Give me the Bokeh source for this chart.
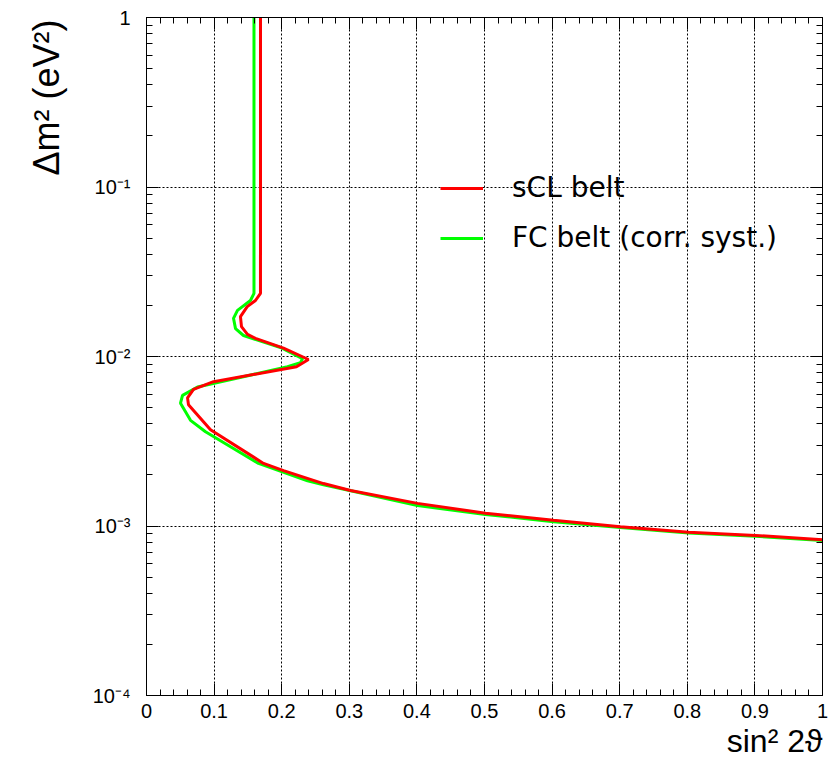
import math
from bokeh.plotting import figure
from bokeh.models import (FixedTicker, LinearAxis, LogAxis, Legend, LegendItem,
                          Title, Range1d, CustomJSTickFormatter)
from bokeh.embed import file_html
from bokeh.resources import INLINE

# ---- data ----
red_x = [0.1686, 0.1686, 0.1612, 0.1490, 0.1390, 0.1405, 0.1494, 0.1612, 0.2027,
         0.2396, 0.2219, 0.0991, 0.0695, 0.0607, 0.0621, 0.0947, 0.1731, 0.2027,
         0.2618, 0.3018, 0.4009, 0.5015, 0.6020, 0.7010, 0.8020, 0.9010, 1.0]
red_y = [1.0, 0.0236, 0.0214, 0.0197, 0.0172, 0.0150, 0.0135, 0.0128, 0.0112,
         0.0096, 0.0087, 0.0071, 0.0064, 0.0057, 0.0052, 0.0037, 0.00234, 0.00212,
         0.00178, 0.00162, 0.00136, 0.00119, 0.00108, 0.00099, 0.00092, 0.00088, 0.00083]

green_x = [0.1590, 0.1590, 0.1538, 0.1346, 0.1287, 0.1317, 0.1435, 0.1982, 0.2308,
           0.2278, 0.2086, 0.0754, 0.0533, 0.0503, 0.0651, 0.0873, 0.1657, 0.2382,
           0.2618, 0.4009, 0.5015, 0.6020, 0.7010, 0.8020, 0.9010, 1.0]
green_y = [1.0, 0.0236, 0.0214, 0.0187, 0.0168, 0.0146, 0.0133, 0.0113, 0.0097,
           0.0092, 0.0087, 0.0066, 0.0059, 0.0053, 0.0042, 0.0036, 0.00234, 0.00185,
           0.00175, 0.00132, 0.00117, 0.00106, 0.00098, 0.00091, 0.00087, 0.00082]

series_labels = ["sCL belt", "FC belt (corr. syst.)"]

x_ticks = [0.0, 0.1, 0.2, 0.3, 0.4, 0.5, 0.6, 0.7, 0.8, 0.9, 1.0]
x_tick_labels = ["0", "0.1", "0.2", "0.3", "0.4", "0.5", "0.6", "0.7", "0.8", "0.9", "1"]
y_ticks = [1e-4, 1e-3, 1e-2, 1e-1, 1.0]
y_tick_labels = ["10\u207b\u2074", "10\u207b\u00b3", "10\u207b\u00b2", "10\u207b\u00b9", "1"]

x_title = "sin\u00b2 2\u03d1"
y_title = "\u0394m\u00b2 (eV\u00b2)"

# ---- figure ----
FONT = "Liberation Sans"
p = figure(width=839, height=765, x_range=Range1d(0, 1), y_range=Range1d(1e-4, 1),
           y_axis_type="log", output_backend="svg", toolbar_location=None,
           min_border_left=146, min_border_right=17, min_border_top=17, min_border_bottom=70,
           background_fill_color="white", border_fill_color="white",
           outline_line_color="black", outline_line_width=1)

x_minor = [i * 0.02 for i in range(51)]
y_minor = [m * 10.0 ** e for e in range(-4, 0) for m in range(2, 10)]

fmt_js = """
const i = tvals.findIndex(t => Math.abs(t - tick) <= 1e-9 * Math.max(1, Math.abs(t)));
return i >= 0 ? tlabels[i] : "";
"""
xfmt = CustomJSTickFormatter(args=dict(tvals=x_ticks, tlabels=x_tick_labels), code=fmt_js)
yfmt = CustomJSTickFormatter(args=dict(tvals=y_ticks, tlabels=y_tick_labels), code=fmt_js)

def style_axis(ax, standoff=8):
    ax.axis_line_color = "black"
    ax.axis_line_width = 1
    ax.major_tick_in = 12
    ax.major_tick_out = 0
    ax.minor_tick_in = 6
    ax.minor_tick_out = 0
    ax.major_tick_line_color = "black"
    ax.minor_tick_line_color = "black"
    ax.major_label_text_font = FONT
    ax.major_label_text_font_size = "20px"
    ax.major_label_text_color = "black"
    ax.major_label_standoff = standoff

xax = p.xaxis[0]
xax.ticker = FixedTicker(ticks=x_ticks, minor_ticks=x_minor)
xax.formatter = xfmt
style_axis(xax, 8)

yax = p.yaxis[0]
yax.ticker = FixedTicker(ticks=y_ticks, minor_ticks=y_minor)
yax.formatter = yfmt
style_axis(yax, 16)

blank = CustomJSTickFormatter(code="return '';")
top = LinearAxis(ticker=FixedTicker(ticks=x_ticks, minor_ticks=x_minor), formatter=blank)
style_axis(top, 0)
p.add_layout(top, "above")
right = LogAxis(ticker=FixedTicker(ticks=y_ticks, minor_ticks=y_minor), formatter=blank)
style_axis(right, 0)
p.add_layout(right, "right")

p.xgrid.ticker = FixedTicker(ticks=x_ticks[1:-1])
p.ygrid.ticker = FixedTicker(ticks=y_ticks[1:-1])
for g in (p.xgrid[0], p.ygrid[0]):
    g.grid_line_color = "black"
    g.grid_line_dash = "2 2"
    g.grid_line_width = 1

r_green = p.line(green_x, green_y, line_color="#00ff00", line_width=3)
r_red = p.line(red_x, red_y, line_color="#ff0000", line_width=3)

legend = Legend(items=[LegendItem(label=series_labels[0], renderers=[r_red]),
                       LegendItem(label=series_labels[1], renderers=[r_green])],
                location=(294, 441), padding=0, margin=0,
                border_line_alpha=0, background_fill_alpha=0,
                glyph_width=43, glyph_height=30, label_height=30, spacing=17,
                label_standoff=29, label_text_font="DejaVu Sans",
                label_text_font_size="28px", label_text_color="black")
p.add_layout(legend)

ytitle = Title(text=y_title, align="right", offset=2, standoff=46,
               text_font=FONT, text_font_size="36px", text_font_style="normal",
               text_color="black")
xtitle = Title(text=x_title, align="right", offset=0, standoff=0,
               text_font=FONT, text_font_size="32px", text_font_style="normal",
               text_color="black")
p.add_layout(ytitle, "left")
p.add_layout(xtitle, "below")

open("out.html", "w").write(file_html(p, INLINE))
